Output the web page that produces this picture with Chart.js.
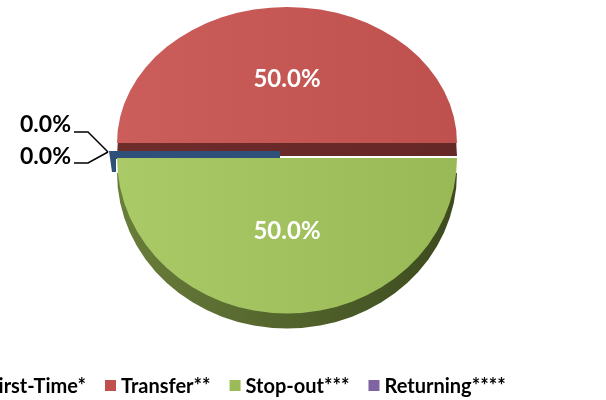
<!DOCTYPE html>
<html>
<head>
<meta charset="utf-8">
<script src="https://cdn.jsdelivr.net/npm/chart.js@4.4.1/dist/chart.umd.min.js"></script>
<style>
  html, body { margin: 0; padding: 0; background: #fff; }
  canvas { display: block; }
</style>
</head>
<body>
<canvas id="pieChart" width="606" height="400"></canvas>
<script>
// Data (percent shares)
const categories = ['First-Time*', 'Transfer**', 'Stop-out***', 'Returning****'];
const shares = [0, 50, 50, 0];
const sliceColors = ['#4F81BD', '#C0504D', '#9BBB59', '#8064A2'];

// look of the tilted pie
const topFace = { 1: ['#CB5E5B', '#BE504D'], 2: ['#AACA68', '#99B957'] };
const sideFace = { 1: ['#6E2C2B', '#662727'], 2: ['#6A7E3B', '#3C4A1E'] };
const FONT = 'Lato, "Open Sans", sans-serif';

function pctText(v) {
    const total = shares.reduce((a, b) => a + b, 0) || 1;
    return (v / total * 100).toFixed(1) + '%';
}

// Tilt: upper half flatter than the exploded lower half
function sliceFrame(arc) {
    const mid = (arc.startAngle + arc.endAngle) / 2;
    if (Math.sin(mid) < 0) return { upper: true, tx: 287, ty: 143, s: 0.8, depth: 13 };
    return { upper: false, tx: 287, ty: 158, s: 0.915, depth: 15 };
}

function drawArcWith(ctx, arc, frame, dy, colors) {
    const r = arc.outerRadius;
    const g = ctx.createLinearGradient(arc.x - r, 0, arc.x + r, 0);
    g.addColorStop(0, colors[0]);
    g.addColorStop(1, colors[1]);
    const orig = arc.options.backgroundColor;
    arc.options.backgroundColor = g;
    ctx.save();
    ctx.translate(frame.tx, frame.ty + dy);
    ctx.scale(1, frame.s);
    ctx.translate(-arc.x, -arc.y);
    arc.draw(ctx);
    ctx.restore();
    arc.options.backgroundColor = orig;
}

function drawSlices(ctx, arcs, upper) {
    arcs.forEach((arc, i) => {
        const f = sliceFrame(arc);
        if (f.upper !== upper || shares[i] === 0) return;
        drawArcWith(ctx, arc, f, f.depth, sideFace[i] || [sliceColors[i], sliceColors[i]]);
        drawArcWith(ctx, arc, f, 0, topFace[i] || [sliceColors[i], sliceColors[i]]);
    });
}

const tiltedPie = {
    id: 'tiltedPie',
    beforeDatasetsDraw(chart) {
        const ctx = chart.ctx;
        const arcs = chart.getDatasetMeta(0).data;
        drawSlices(ctx, arcs, true);
        // zero slice at 9 o'clock shows only as a thin dark edge
        const r = arcs[0].outerRadius;
        ctx.save();
        ctx.fillStyle = '#2E5079';
        ctx.beginPath();
        ctx.moveTo(287 - r - 8, 151);
        ctx.lineTo(287 - 7, 151);
        ctx.lineTo(287 - 7, 159);
        ctx.lineTo(287 - r - 1, 159);
        ctx.lineTo(287 - r - 1, 172);
        ctx.lineTo(287 - r - 5, 172);
        ctx.closePath();
        ctx.fill();
        ctx.restore();
        drawSlices(ctx, arcs, false);
        return false;
    },
    afterDraw(chart) {
        const ctx = chart.ctx;
        const arcs = chart.getDatasetMeta(0).data;
        ctx.save();
        ctx.textBaseline = 'middle';
        // big labels
        ctx.font = 'bold 24px ' + FONT;
        ctx.fillStyle = '#fff';
        ctx.textAlign = 'center';
        arcs.forEach((arc, i) => {
            if (shares[i] === 0) return;
            const f = sliceFrame(arc);
            const mid = (arc.startAngle + arc.endAngle) / 2;
            const rr = arc.outerRadius * 0.47;
            ctx.fillText(pctText(shares[i]), f.tx + Math.cos(mid) * rr, f.ty + Math.sin(mid) * rr * f.s);
        });
        // zero labels with leader lines
        const zeros = shares.map((v, i) => i).filter(i => shares[i] === 0);
        const r = arcs[0].outerRadius;
        const ax = 287 - r - 9, ay = 152;
        ctx.font = 'bold 23px ' + FONT;
        ctx.fillStyle = '#000';
        ctx.textAlign = 'right';
        ctx.strokeStyle = '#000';
        ctx.lineWidth = 1.5;
        zeros.forEach((i, k) => {
            const ty = k === 0 ? 125 : 157;
            const lineY = k === 0 ? 132 : 163;
            ctx.fillText(pctText(shares[i]), 71, ty);
            ctx.beginPath();
            ctx.moveTo(74, lineY);
            ctx.lineTo(88, lineY);
            ctx.lineTo(ax, ay);
            ctx.stroke();
        });
        // legend along the bottom (runs off the left edge like the original)
        ctx.font = 'bold 20px ' + FONT;
        ctx.textAlign = 'left';
        const box = 11, gapText = 5, gapItem = 19, ly = 386;
        let x = 105 - (gapItem + ctx.measureText(categories[0]).width + gapText + box);
        categories.forEach((name, i) => {
            ctx.fillStyle = sliceColors[i];
            ctx.fillRect(x, ly - 6, box, box);
            x += box + gapText;
            ctx.fillStyle = '#000';
            ctx.fillText(name, x, ly + 1);
            x += ctx.measureText(name).width + gapItem;
        });
        ctx.restore();
    }
};

new Chart(document.getElementById('pieChart'), {
    type: 'pie',
    data: {
        labels: categories,
        datasets: [{ data: shares, backgroundColor: sliceColors, borderWidth: 0 }]
    },
    options: {
        responsive: false,
        animation: false,
        rotation: -90,
        radius: 170,
        events: [],
        plugins: {
            legend: { display: false },
            tooltip: { enabled: false }
        }
    },
    plugins: [tiltedPie]
});
</script>
</body>
</html>
